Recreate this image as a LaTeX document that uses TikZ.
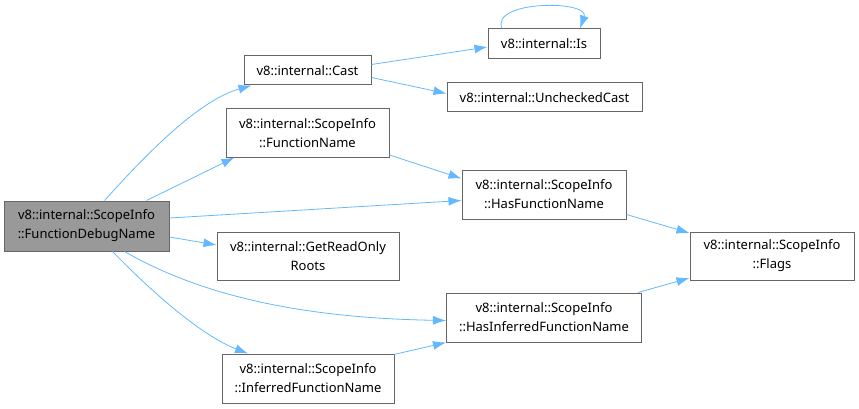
\documentclass[tikz,border=0pt]{standalone}
\usepackage{fontspec}
\setmainfont{Noto Sans}
\usetikzlibrary{arrows.meta}
\definecolor{edgeblue}{HTML}{63B8FF}
\definecolor{boxgray}{HTML}{666666}
\definecolor{mainfill}{HTML}{999999}
\tikzset{
  fn/.style={draw=boxgray, line width=1pt, fill=white, align=center, inner sep=0pt,
    font=\fontsize{13}{19}\selectfont},
  call/.style={draw=edgeblue, line width=0.8pt, -{Latex[length=13pt,width=9pt]}}
}
\begin{document}
\begin{tikzpicture}[x=1pt,y=-1pt]
\useasboundingbox (0,0) rectangle (859,409);
\node[fn, fill=mainfill, minimum width=165, minimum height=50] (debug) at (86.5,226) {v8::internal::ScopeInfo\\::FunctionDebugName};
\node[fn, minimum width=127, minimum height=29] (cast) at (307.5,70.5) {v8::internal::Cast};
\node[fn, minimum width=112, minimum height=30] (is) at (544,44) {v8::internal::Is};
\node[fn, minimum width=195, minimum height=29] (unchecked) at (544.5,97.5) {v8::internal::UncheckedCast};
\node[fn, minimum width=163, minimum height=48] (fname) at (307.5,133) {v8::internal::ScopeInfo\\::FunctionName};
\node[fn, minimum width=164, minimum height=49] (hasfname) at (544,194.5) {v8::internal::ScopeInfo\\::HasFunctionName};
\node[fn, minimum width=182, minimum height=48] (roots) at (308,256) {v8::internal::GetReadOnly\\Roots};
\node[fn, minimum width=195, minimum height=49] (hasinf) at (544,317.5) {v8::internal::ScopeInfo\\::HasInferredFunctionName};
\node[fn, minimum width=172, minimum height=49] (inffname) at (308,378.5) {v8::internal::ScopeInfo\\::InferredFunctionName};
\node[fn, minimum width=164, minimum height=48] (flags) at (772,256) {v8::internal::ScopeInfo\\::Flags};
\draw[call] ([xshift=18]debug.north) .. controls (150,150) and (200,100) .. ([xshift=-56]cast.south);
\draw[call] ([xshift=60]debug.north) -- ([xshift=-73]fname.south);
\draw[call] ([yshift=8]debug.east) -- ([yshift=-6]hasfname.west);
\draw[call] ([yshift=-11]debug.east) -- ([yshift=11]roots.west);
\draw[call] ([xshift=38]debug.south) .. controls (200,295) and (300,318) .. ([yshift=-3]hasinf.west);
\draw[call] ([xshift=26]debug.south) .. controls (150,290) and (200,335) .. ([xshift=-60]inffname.north);
\draw[call] ([yshift=6]cast.east) -- ([yshift=-3]is.west);
\draw[call] ([yshift=-7]cast.east) -- ([yshift=4]unchecked.west);
\draw[call] ([xshift=-42]is.north) .. controls (490,0) and (590,0) .. ([xshift=36]is.north);
\draw[call] ([yshift=-22]fname.east) -- ([yshift=16]hasfname.west);
\draw[call] ([yshift=-20]hasfname.east) -- ([yshift=23]flags.west);
\draw[call] ([xshift=94]hasinf.north) -- ([yshift=-22]flags.west);
\draw[call] ([xshift=86,yshift=-1]inffname.north) -- ([yshift=-25]hasinf.west);
\end{tikzpicture}
\end{document}
